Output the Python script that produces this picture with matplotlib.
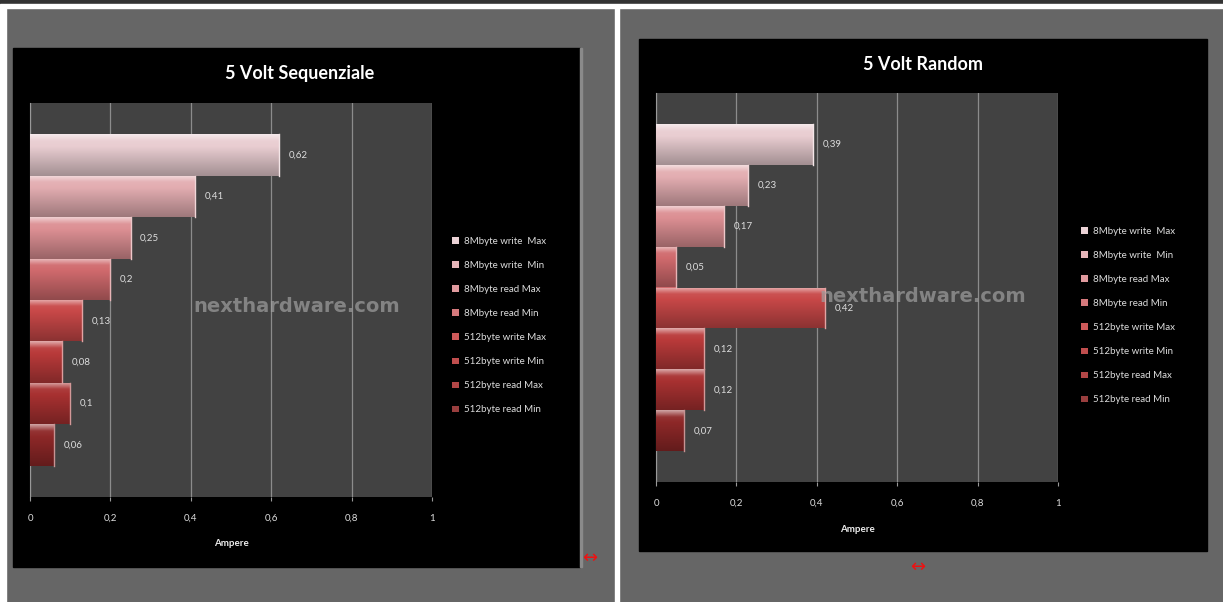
import numpy as np
import matplotlib.pyplot as plt
from matplotlib.patches import Rectangle, Patch

# ---- data ----
series = [
    "8Mbyte write  Max",
    "8Mbyte write  Min",
    "8Mbyte read Max",
    "8Mbyte read Min",
    "512byte write Max",
    "512byte write Min",
    "512byte read Max",
    "512byte read Min",
]
seq_values = [0.62, 0.41, 0.25, 0.2, 0.13, 0.08, 0.1, 0.06]
rnd_values = [0.39, 0.23, 0.17, 0.05, 0.42, 0.12, 0.12, 0.07]
xticks = [0, 0.2, 0.4, 0.6, 0.8, 1]
xtick_labels = ["0", "0,2", "0,4", "0,6", "0,8", "1"]

bar_colors = ["#e9cdd1", "#e3adb1", "#dc8f93", "#d06a6d",
              "#c84848", "#b93a3a", "#a83131", "#8e2828"]

W, H = 1223, 602
fig = plt.figure(figsize=(W / 100, H / 100), dpi=100)
fig.set_facecolor("#666666")
plt.rcParams["font.family"] = ["Lato", "DejaVu Sans"]


def px_rect(x0, y0, x1, y1):
    return [x0 / W, 1 - y1 / H, (x1 - x0) / W, (y1 - y0) / H]


def fig_rect(x0, y0, x1, y1, color):
    fig.patches.append(Rectangle((x0 / W, 1 - y1 / H), (x1 - x0) / W, (y1 - y0) / H,
                                 transform=fig.transFigure, color=color, zorder=-5))


# page decorations
fig_rect(0, 0, W, 4, "#333333")
fig_rect(0, 4, W, 8, "#ffffff")
fig_rect(0, 8, 6, H, "#ffffff")
fig_rect(615, 8, 619, H, "#ffffff")


def shade(c, f):
    c = np.array(plt.matplotlib.colors.to_rgb(c))
    if f >= 0:
        return c + (1 - c) * f
    return c * (1 + f)


def draw_chart(box, plot, title, title_xy, values, legend_xy, ampere_xy, wm_xy, arrow_xy,
               edge=False):
    fig_rect(*box, "#000000")
    if edge:
        fig_rect(box[2], box[1], box[2] + 2, box[3], "#8a8a8a")
    ax = fig.add_axes(px_rect(*plot))
    ax.set_facecolor("#424242")
    n = len(values)
    ypos = np.arange(n)[::-1]
    handles = []
    for i, (v, y) in enumerate(zip(values, ypos)):
        bars = ax.barh(y, v, height=1.0, color=bar_colors[i], edgecolor="none", zorder=3)
        bar = bars[0]
        # vertical gradient: highlight on top, darker toward bottom
        grad = np.array([shade(bar_colors[i], f) for f in
                         np.concatenate([np.linspace(0.55, 0.1, 6), np.linspace(0.05, -0.3, 30)])])
        grad = grad[:, None, :]
        im = ax.imshow(grad, extent=(0, v, y - 0.5, y + 0.5), aspect="auto",
                       origin="upper", zorder=4, interpolation="bilinear")
        im.set_clip_path(bar)
        ax.plot([v, v], [y - 0.5, y + 0.5], color=shade(bar_colors[i], 0.5), lw=1, zorder=5)
        ax.annotate(f"{v:g}".replace(".", ","), (v, y), xytext=(7, 0),
                    textcoords="offset points", va="center", ha="left",
                    color="#dddddd", fontsize=7, zorder=6)
        handles.append(Patch(facecolor=shade(bar_colors[i], 0.1), edgecolor="none"))
    ax.set_xlim(0, 1)
    ax.set_ylim(-1.25, n + 0.25)
    ax.set_xticks(xticks)
    ax.set_xticklabels(xtick_labels, color="#dddddd", fontsize=7)
    ax.set_yticks([])
    ax.tick_params(axis="x", length=3, color="#999999", pad=9)
    ax.grid(axis="x", color="#8c8c8c", lw=0.9, zorder=1)
    for s in ["top", "right", "bottom"]:
        ax.spines[s].set_visible(False)
    ax.spines["left"].set_color("#999999")
    ax.spines["left"].set_zorder(2)
    ax.set_axisbelow(True)

    fig.text(title_xy[0] / W, 1 - title_xy[1] / H, title, color="white",
             fontsize=13, fontweight="bold", ha="center", va="center")
    fig.text(ampere_xy[0] / W, 1 - ampere_xy[1] / H, "Ampere", color="#eeeeee",
             fontsize=7, fontweight="bold", ha="center", va="center")
    fig.text(wm_xy[0] / W, 1 - wm_xy[1] / H, "nexthardware.com", color="#a0a0a0",
             alpha=0.7, fontsize=14, fontweight="bold", ha="center", va="center",
             family=["DejaVu Sans"], zorder=10)
    fig.text(arrow_xy[0] / W, 1 - arrow_xy[1] / H, "↔", color="#ee1111",
             fontsize=13, ha="center", va="center", family=["DejaVu Sans"])
    fig.legend(handles, series, loc="upper left",
               bbox_to_anchor=(legend_xy[0] / W, 1 - legend_xy[1] / H),
               frameon=False, fontsize=7, labelcolor="#dddddd",
               handlelength=0.7, handleheight=0.7, handletextpad=0.5,
               labelspacing=1.55, borderaxespad=0, borderpad=0)
    return ax


draw_chart((13, 48, 580, 567), (30, 103, 432, 497), "5 Volt Sequenziale", (300, 73),
           seq_values, (452, 237), (231, 544), (297, 307), (590, 558), edge=True)
draw_chart((639, 39, 1207, 551), (656, 93, 1058, 482), "5 Volt Random", (923, 64),
           rnd_values, (1081, 227), (857, 529), (923, 296), (918, 567))

fig.savefig("out.png", dpi=100, facecolor=fig.get_facecolor())
